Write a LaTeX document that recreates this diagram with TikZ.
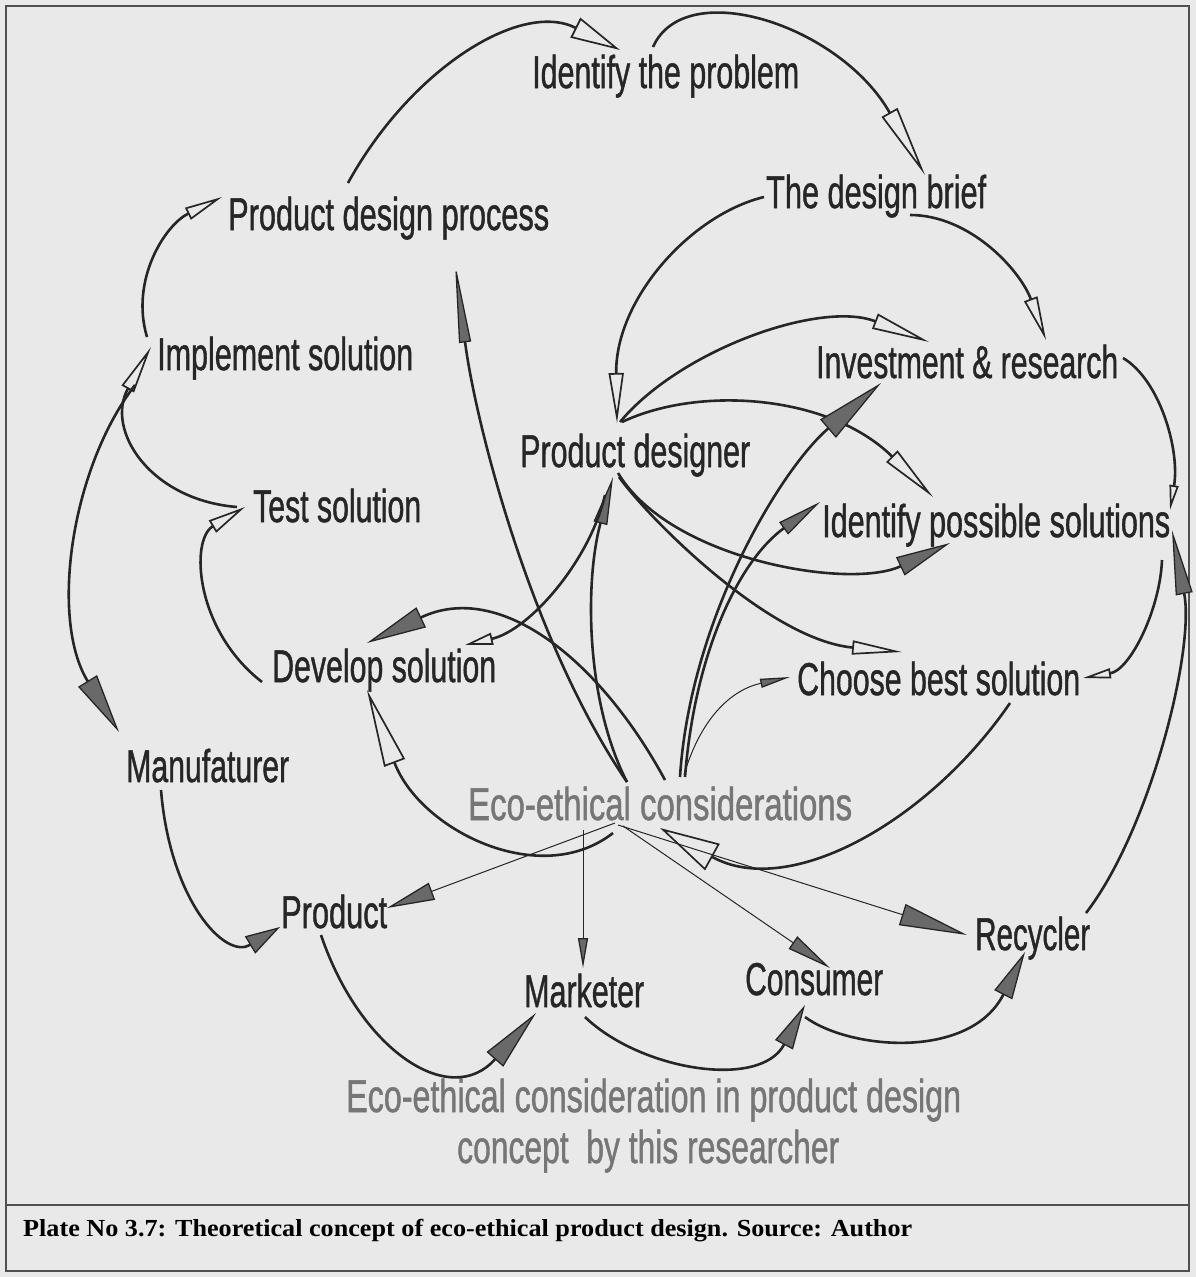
\documentclass[tikz,border=0pt]{standalone}
\usepackage{fontspec}
\setmainfont{Liberation Sans}
\newfontfamily\lblfont[FakeBold=1.2]{Liberation Sans}
\newfontfamily\capfont{Liberation Serif}
\usetikzlibrary{arrows.meta,calc}
\definecolor{bgc}{RGB}{233,233,233}
\definecolor{ink}{RGB}{38,38,38}
\definecolor{gtxt}{RGB}{118,118,118}
\definecolor{hfill}{RGB}{105,105,105}
\definecolor{frm}{RGB}{80,80,80}
\newcommand{\fitw}[2]{\resizebox{#1pt}{\height}{#2}}
\begin{document}
\begin{tikzpicture}[x=1pt,y=-1pt,
  lbl/.style={inner sep=0pt, anchor=base west, text=ink, font=\lblfont\fontsize{46}{50}\selectfont},
  glbl/.style={lbl, text=gtxt},
  conn/.style={draw=ink, line width=2.6pt},
  tconn/.style={draw=ink, line width=1.0pt},
  oa/.style 2 args={-{Triangle[length=#1pt,width=#2pt,fill=bgc,line width=1.7pt]}},
  fa/.style 2 args={-{Triangle[length=#1pt,width=#2pt,fill=hfill,line width=1.3pt]}},
]
\fill[bgc] (0,0) rectangle (1196,1277);
\useasboundingbox (0,0) rectangle (1196,1277);
\draw[frm, line width=1.8pt] (6,6) rectangle (1189,1271);
\draw[frm, line width=1.6pt] (6,1205) -- (1189,1205);

% labels
\node[lbl] (itp) at (532,88) {\fitw{267}{Identify the problem}};
\node[lbl] (pdp) at (228,230) {\fitw{321}{Product design process}};
\node[lbl] (tdb) at (766,208) {\fitw{220}{The design brief}};
\node[lbl] (ims) at (157,370) {\fitw{256}{Implement solution}};
\node[lbl] (inv) at (816,378) {\fitw{302}{Investment \& research}};
\node[lbl] (pd) at (520,467) {\fitw{230}{Product designer}};
\node[lbl] (ts) at (253,522) {\fitw{168}{Test solution}};
\node[lbl] (ips) at (822,537) {\fitw{348}{Identify possible solutions}};
\node[lbl] (ds) at (272,682) {\fitw{224}{Develop solution}};
\node[lbl] (cbs) at (797,695) {\fitw{283}{Choose best solution}};
\node[lbl] (mf) at (126,782) {\fitw{163}{Manufaturer}};
\node[glbl] (eco) at (468,820) {\fitw{384}{Eco-ethical considerations}};
\node[lbl] (prod) at (281,928) {\fitw{106}{Product}};
\node[lbl] (mkt) at (524,1007) {\fitw{120}{Marketer}};
\node[lbl] (cons) at (745,995) {\fitw{138}{Consumer}};
\node[lbl] (rec) at (975,950) {\fitw{115}{Recycler}};
\node[glbl] (t1) at (346,1112) {\fitw{615}{Eco-ethical consideration in product design}};
\node[glbl] (t2) at (457,1163) {\fitw{382}{concept~~by this researcher}};
\node[inner sep=0pt, anchor=base west, text=black, font=\capfont\bfseries\fontsize{24.5}{28}\selectfont] (cap) at (23,1236) {\fitw{889}{Plate No 3.7: Theoretical concept of eco-ethical product design. Source: Author}};

% connectors
\draw[conn,oa={50}{22}] ($(pdp.base west)+(120,-47)$) .. controls (410,70) and (520,0) .. ($(itp.base west)+(88,-38)$);
\draw[conn,oa={72}{18}] ($(itp.base west)+(121,-41)$) .. controls (685,-25) and (840,25) .. ($(tdb.base west)+(159,-33)$);
\draw[conn,oa={50}{15}] ($(tdb.base west)+(-2,-11)$) .. controls (690,215) and (615,300) .. ($(pd.base west)+(97,-44)$);
\draw[conn,oa={44}{14}] ($(tdb.base west)+(144,7)$) .. controls (970,215) and (1020,270) .. ($(inv.base west)+(230,-38)$);
\draw[conn,oa={58}{16}] ($(pd.base west)+(100,-45)$) .. controls (680,350) and (820,300) .. ($(inv.base west)+(113,-36)$);
\draw[conn,oa={58}{16}] ($(pd.base west)+(102,-45)$) .. controls (700,385) and (830,395) .. ($(ips.base west)+(111,-40)$);
\draw[conn,fa={55}{20}] ($(pd.base west)+(98,6)$) .. controls (670,560) and (850,590) .. ($(ips.base west)+(128,6)$);
\draw[conn,oa={50}{14}] ($(pd.base west)+(99,10)$) .. controls (650,520) and (770,640) .. ($(cbs.base west)+(105,-43)$);
\draw[conn,fa={48}{14}] ($(eco.base west)+(159,-38)$) .. controls (585,700) and (585,580) .. ($(pd.base west)+(93,10)$);
\draw[conn,oa={28}{12}] ($(pd.base west)+(85,28)$) .. controls (590,560) and (530,630) .. ($(ds.base west)+(193,-37)$);
\draw[conn,fa={80}{12}] ($(eco.base west)+(159,-38)$) .. controls (530,640) and (475,420) .. ($(pdp.base west)+(227,33)$);
\draw[conn,fa={60}{22}] ($(eco.base west)+(197,-40)$) .. controls (600,660) and (500,580) .. ($(ds.base west)+(95,-39)$);
\draw[conn,fa={70}{24}] ($(eco.base west)+(212,-43)$) .. controls (690,620) and (780,470) .. ($(inv.base west)+(65,5)$);
\draw[conn,fa={45}{15}] ($(eco.base west)+(217,-43)$) .. controls (695,650) and (740,560) .. ($(ips.base west)+(-2,-35)$);
\draw[tconn,fa={30}{9}] ($(eco.base west)+(216,-45)$) .. controls (700,720) and (730,690) .. ($(cbs.base west)+(-7,-18)$);
\draw[conn,oa={60}{30}] ($(cbs.base west)+(213,8)$) .. controls (930,820) and (790,900) .. ($(eco.base west)+(192,8)$);
\draw[conn,oa={38}{14}] ($(ds.base west)+(-10,0)$) .. controls (195,630) and (190,540) .. ($(ts.base west)+(-8,-15)$);
\draw[conn,oa={48}{14}] ($(ts.base west)+(-16,-15)$) .. controls (150,500) and (105,430) .. ($(ims.base west)+(-6,-23)$);
\draw[conn,fa={60}{22}] ($(ims.base west)+(-22,15)$) .. controls (70,470) and (50,620) .. ($(mf.base west)+(-7,-50)$);
\draw[conn,oa={38}{13}] ($(ims.base west)+(-10,-33)$) .. controls (130,280) and (165,225) .. ($(pdp.base west)+(-6,-33)$);
\draw[conn,fa={35}{20}] ($(mf.base west)+(35,8)$) .. controls (170,900) and (225,960) .. ($(prod.base west)+(-1,-1)$);
\draw[conn,fa={62}{22}] ($(prod.base west)+(40,7)$) .. controls (360,1050) and (450,1110) .. ($(mkt.base west)+(12,6)$);
\draw[tconn,fa={48}{18}] ($(eco.base west)+(147,3)$) -- ($(prod.base west)+(106,-20)$);
\draw[tconn,fa={30}{10}] ($(eco.base west)+(115,10)$) -- ($(mkt.base west)+(59,-39)$);
\draw[tconn,fa={45}{15}] ($(eco.base west)+(155,6)$) -- ($(cons.base west)+(85,-27)$);
\draw[tconn,fa={68}{22}] ($(eco.base west)+(150,5)$) -- ($(rec.base west)+(-8,-15)$);
\draw[conn,fa={45}{20}] ($(mkt.base west)+(61,10)$) .. controls (640,1070) and (760,1090) .. ($(cons.base west)+(60,10)$);
\draw[conn,fa={48}{20}] ($(cons.base west)+(60,22)$) .. controls (850,1050) and (970,1060) .. ($(rec.base west)+(50,2)$);
\draw[conn,fa={65}{17}] ($(rec.base west)+(111,-37)$) .. controls (1150,830) and (1195,650) .. ($(ips.base west)+(350,-7)$);
\draw[conn,oa={25}{9}] ($(inv.base west)+(307,-20)$) .. controls (1160,380) and (1180,450) .. ($(ips.base west)+(348,-27)$);
\draw[conn,oa={28}{10}] ($(ips.base west)+(340,23)$) .. controls (1160,610) and (1130,670) .. ($(cbs.base west)+(286,-17)$);
\draw[conn,oa={78}{22}] ($(eco.base west)+(145,13)$) .. controls (540,890) and (420,830) .. ($(ds.base west)+(95,8)$);
\end{tikzpicture}
\end{document}
